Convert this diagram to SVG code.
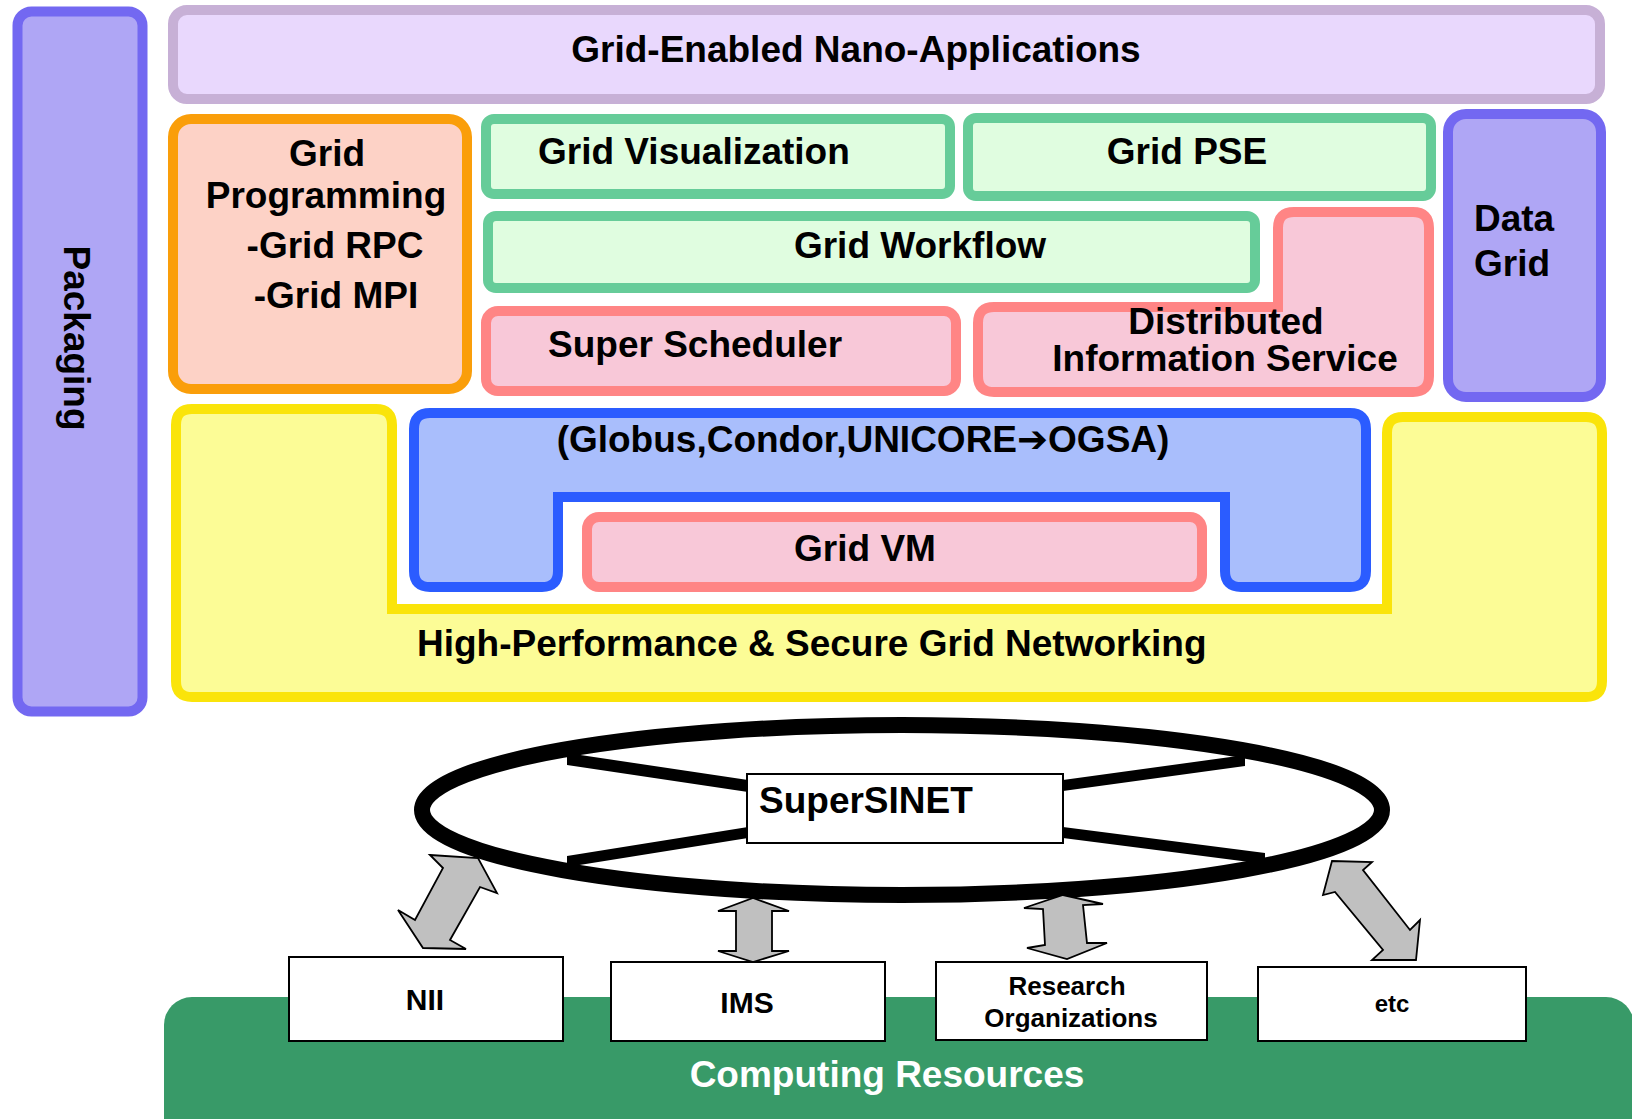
<svg xmlns="http://www.w3.org/2000/svg" width="1632" height="1119" viewBox="0 0 1632 1119">
<style>
text{font-family:"Liberation Sans",Arial,"DejaVu Sans",sans-serif;font-weight:bold;fill:#000}
.t37{font-size:37px}
.t30{font-size:30px}
.t26{font-size:26px}
.mid{text-anchor:middle}
.lav{fill:#E9D8FD;stroke:#C7B0D6;stroke-width:10}
.pur{fill:#AFA6F5;stroke:#7368F1;stroke-width:10}
.ora{fill:#FDD2C6;stroke:#FA9E0A;stroke-width:10}
.grn{fill:#E0FDE0;stroke:#66CC99;stroke-width:10}
.pnk{fill:#F8C8D8;stroke:#FF8585;stroke-width:10}
.yel{fill:#FCFC96;stroke:#FAE40A;stroke-width:10}
.blu{fill:#A9BEFC;stroke:#2B5CFF;stroke-width:10}
.box{fill:#fff;stroke:#000;stroke-width:2}
.arr{fill:#C0C0C0;stroke:#000;stroke-width:1.8;stroke-linejoin:miter}
.spoke{fill:#000}
</style>
<rect x="0" y="0" width="1632" height="1119" fill="#fff"/>

<g id="computing-resources">
<rect x="164" y="997" width="1470" height="170" rx="28" fill="#389A68"/>
<text class="t37 mid" x="887" y="1087" style="fill:#fff">Computing Resources</text>
</g>

<g id="packaging">
<rect class="pur" x="17.5" y="11.5" width="125" height="700" rx="14"/>
<text class="t37" transform="translate(64,338) rotate(90)" text-anchor="middle">Packaging</text>
</g>

<g id="nano-apps">
<rect class="lav" x="173" y="10" width="1427" height="89" rx="14"/>
<text class="t37 mid" x="856" y="62">Grid-Enabled Nano-Applications</text>
</g>

<g id="grid-programming">
<rect class="ora" x="173" y="119" width="294" height="270" rx="18"/>
<text class="t37 mid" x="327" y="166">Grid</text>
<text class="t37 mid" x="326" y="208">Programming</text>
<text class="t37 mid" x="335" y="258">-Grid RPC</text>
<text class="t37 mid" x="336" y="308">-Grid MPI</text>
</g>

<g id="grid-visualization">
<rect class="grn" x="486" y="119" width="464" height="75" rx="8"/>
<text class="t37" x="538" y="164">Grid Visualization</text>
</g>

<g id="grid-pse">
<rect class="grn" x="968" y="118" width="463" height="78" rx="8"/>
<text class="t37 mid" x="1187" y="164">Grid PSE</text>
</g>

<g id="data-grid">
<rect class="pur" x="1448" y="114" width="153" height="283" rx="18"/>
<text class="t37" x="1474" y="231">Data</text>
<text class="t37" x="1474" y="276">Grid</text>
</g>

<g id="distributed-information-service">
<path class="pnk" d="M978,323 Q978,307 994,307 L1278,307 L1278,228 Q1278,212 1294,212 L1413,212 Q1429,212 1429,228 L1429,376 Q1429,392 1413,392 L994,392 Q978,392 978,376 Z"/>
<text class="t37 mid" x="1226" y="334">Distributed</text>
<text class="t37 mid" x="1225" y="371">Information Service</text>
</g>

<g id="grid-workflow">
<rect class="grn" x="488" y="216" width="767" height="72" rx="8"/>
<text class="t37 mid" x="920" y="258">Grid Workflow</text>
</g>

<g id="super-scheduler">
<rect class="pnk" x="486" y="311" width="470" height="80" rx="12"/>
<text class="t37" x="548" y="357">Super Scheduler</text>
</g>

<g id="grid-networking">
<path class="yel" d="M176,425 Q176,409 192,409 L376,409 Q392,409 392,425 L392,609 L1387,609 L1387,433 Q1387,417 1403,417 L1586,417 Q1602,417 1602,433 L1602,681 Q1602,697 1586,697 L192,697 Q176,697 176,681 Z"/>
<text class="t37" x="417" y="656">High-Performance &amp; Secure Grid Networking</text>
</g>

<g id="middleware">
<path class="blu" d="M414,429 Q414,413 430,413 L1350,413 Q1366,413 1366,429 L1366,571 Q1366,587 1350,587 L1241,587 Q1225,587 1225,571 L1225,497 L558,497 L558,571 Q558,587 542,587 L430,587 Q414,587 414,571 Z"/>
<text class="t37 mid" x="863" y="452">(Globus,Condor,UNICORE<tspan style="font-family:'DejaVu Sans',sans-serif;font-weight:900">➔</tspan>OGSA)</text>
</g>

<g id="grid-vm">
<rect class="pnk" x="587" y="517" width="615" height="70" rx="12"/>
<text class="t37 mid" x="865" y="561">Grid VM</text>
</g>

<g id="supersinet">
<ellipse cx="902" cy="810" rx="480" ry="85" fill="none" stroke="#000" stroke-width="16"/>
<polygon class="spoke" points="567,753 748,780 748,792 567,765"/>
<polygon class="spoke" points="1063,780 1245,755 1245,766 1063,791"/>
<polygon class="spoke" points="567,856 748,827 748,838 567,867"/>
<polygon class="spoke" points="1063,827 1265,853 1265,864 1063,838"/>
<rect class="box" x="747" y="774" width="316" height="69"/>
<text class="t37" x="759" y="813">SuperSINET</text>
</g>

<g id="nii">
<rect class="box" x="289" y="957" width="274" height="84"/>
<text class="t30 mid" x="425" y="1010">NII</text>
</g>
<g id="ims">
<rect class="box" x="611" y="962" width="274" height="79"/>
<text class="t30 mid" x="747" y="1013">IMS</text>
</g>
<g id="research-organizations">
<rect class="box" x="936" y="962" width="271" height="78"/>
<text class="t26 mid" x="1067" y="995">Research</text>
<text class="t26 mid" x="1071" y="1027">Organizations</text>
</g>
<g id="etc">
<rect class="box" x="1258" y="967" width="268" height="74"/>
<text class="mid" x="1392" y="1012" style="font-size:24px">etc</text>
</g>

<g id="connectors">
<polygon class="arr" points="430,855 478,858 497,893 480,887 450,940 466,949 423,948 398,910 415,920 443,868"/>
<polygon class="arr" points="753,898 789,911 772,911 772,951 789,951 753,962 718,951 736,951 736,911 718,911"/>
<polygon class="arr" points="1063,895 1103,904 1083,905 1087,943 1107,943 1067,959 1027,948 1045,945 1043,909 1024,908"/>
<polygon class="arr" points="1332,861 1372,862 1363,870 1410,930 1420,920 1416,960 1372,960 1383,950 1335,892 1323,895"/>
</g>
</svg>
